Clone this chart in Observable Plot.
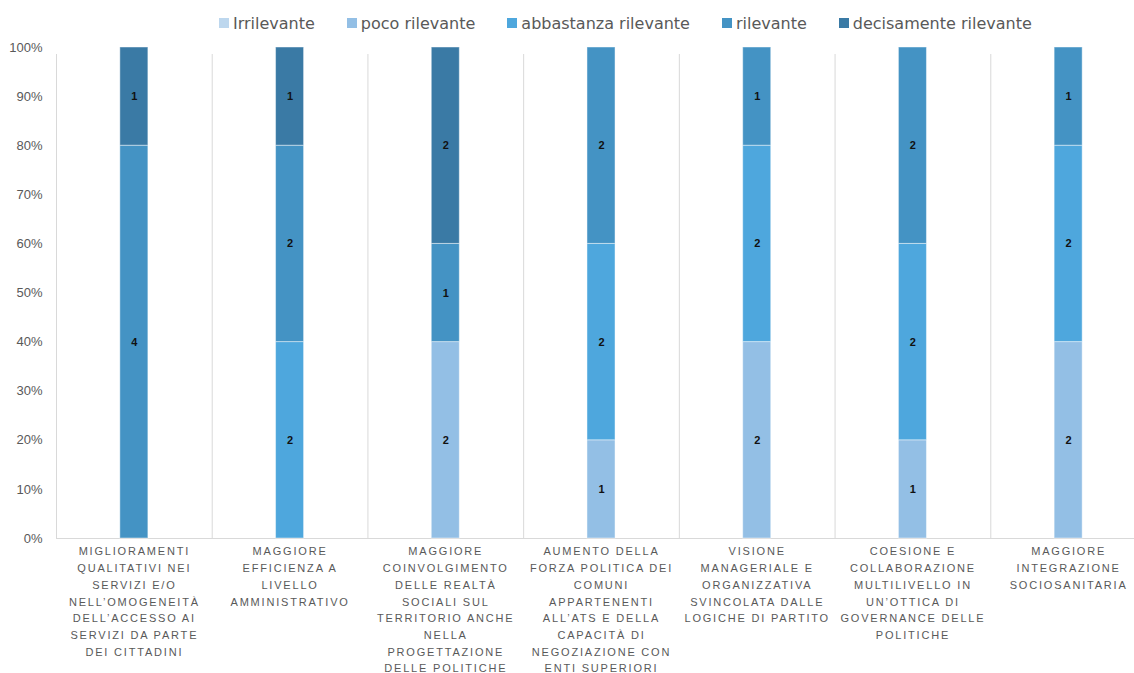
<!DOCTYPE html>
<html>
<head>
<meta charset="utf-8">
<script src="https://cdn.jsdelivr.net/npm/d3@7"></script>
<script src="https://cdn.jsdelivr.net/npm/@observablehq/plot@0.6"></script>
<style>
  body { margin: 0; background: #ffffff; }
  #legend {
    box-sizing: border-box;
    height: 40px;
    padding: 6px 0 0 219px;
    display: flex;
    align-items: center;
    font-family: "DejaVu Sans", sans-serif;
    font-size: 16px;
    color: #595959;
    white-space: nowrap;
  }
  #legend .item { display: flex; align-items: center; margin-right: 32px; }
  #legend .swatch { width: 10px; height: 10px; margin-right: 4px; }
  #chart svg { display: block; }
</style>
</head>
<body>
<div id="legend"></div>
<div id="chart"></div>
<script>
// Fattori emersi: numero di risposte per livello di rilevanza
const categories = [
  "MIGLIORAMENTI\nQUALITATIVI NEI\nSERVIZI E/O\nNELL’OMOGENEITÀ\nDELL’ACCESSO AI\nSERVIZI DA PARTE\nDEI CITTADINI",
  "MAGGIORE\nEFFICIENZA A\nLIVELLO\nAMMINISTRATIVO",
  "MAGGIORE\nCOINVOLGIMENTO\nDELLE REALTÀ\nSOCIALI SUL\nTERRITORIO ANCHE\nNELLA\nPROGETTAZIONE\nDELLE POLITICHE",
  "AUMENTO DELLA\nFORZA POLITICA DEI\nCOMUNI\nAPPARTENENTI\nALL’ATS E DELLA\nCAPACITÀ DI\nNEGOZIAZIONE CON\nENTI SUPERIORI",
  "VISIONE\nMANAGERIALE E\nORGANIZZATIVA\nSVINCOLATA DALLE\nLOGICHE DI PARTITO",
  "COESIONE E\nCOLLABORAZIONE\nMULTILIVELLO IN\nUN’OTTICA DI\nGOVERNANCE DELLE\nPOLITICHE",
  "MAGGIORE\nINTEGRAZIONE\nSOCIOSANITARIA"
];

const seriesNames = ["Irrilevante", "poco rilevante", "abbastanza rilevante", "rilevante", "decisamente rilevante"];
const seriesColors = ["#bdd7ee", "#93bfe5", "#4ea7dd", "#4493c4", "#3a7aa5"];

const irrilevante          = [0, 0, 0, 0, 0, 0, 0];
const pocoRilevante        = [0, 0, 2, 1, 2, 1, 2];
const abbastanzaRilevante  = [0, 2, 0, 2, 2, 2, 2];
const rilevante            = [4, 2, 1, 2, 1, 2, 1];
const decisamenteRilevante = [1, 1, 2, 0, 0, 0, 0];

const yTicks = [0, 0.1, 0.2, 0.3, 0.4, 0.5, 0.6, 0.7, 0.8, 0.9, 1];

const seriesValues = [irrilevante, pocoRilevante, abbastanzaRilevante, rilevante, decisamenteRilevante];
const rows = [];
categories.forEach((category, i) => {
  seriesNames.forEach((series, s) => {
    rows.push({category, series, value: seriesValues[s][i]});
  });
});
const nonZero = rows.filter(d => d.value > 0);

// Legend
const legend = d3.select("#legend");
seriesNames.forEach((name, i) => {
  const item = legend.append("div").attr("class", "item");
  item.append("div").attr("class", "swatch").style("background", seriesColors[i]);
  item.append("span").text(name);
});

// Plot area extends past the right edge of the page
const xRange = [56, 1146];
const step = (xRange[1] - xRange[0]) / categories.length;

const chart = Plot.plot({
  width: 1134,
  height: 633,
  marginTop: 7,
  marginBottom: 135,
  marginLeft: 56,
  marginRight: 0,
  style: {fontFamily: "Liberation Sans, Arial, sans-serif", fontSize: "13px", color: "#595959", background: "#ffffff"},
  x: {domain: categories, range: xRange, paddingInner: 0.82, paddingOuter: 0.41, round: false, axis: null},
  y: {domain: [0, 1], label: null},
  color: {domain: seriesNames, range: seriesColors},
  marks: [
    Plot.ruleX(categories, {x: d => d, dx: -step / 2, y1: 0, y2: 1, insetTop: 0, insetBottom: -7, stroke: "#d9d9d9", strokeWidth: 1}),
    Plot.ruleY([0], {stroke: "#d9d9d9", strokeWidth: 1}),
    Plot.barY(rows, Plot.stackY({
      x: "category", y: "value", fill: "series", order: seriesNames, offset: "normalize",
      stroke: "#ffffff", strokeOpacity: 0.45, strokeWidth: 1
    })),
    Plot.text(nonZero, Plot.stackY({
      x: "category", y: "value", z: "series", order: seriesNames, offset: "normalize",
      text: d => String(d.value), fill: "#111111", fontWeight: "bold", fontSize: 11
    })),
    Plot.axisY({ticks: yTicks, tickFormat: d3.format(".0%"), tickSize: 0, tickPadding: 14, fontSize: 13, label: null}),
    Plot.text(categories, {
      x: d => d, y: 0, text: d => d, lineAnchor: "top", dy: 5, lineHeight: 1.52,
      fontSize: 11, fill: "#595959"
    })
  ]
});

document.getElementById("chart").appendChild(chart);

// letter spacing on the category labels
d3.select(chart).selectAll("text")
  .filter(function() { return /[A-Z]{3}/.test(this.textContent); })
  .style("letter-spacing", "1.8px");
</script>
</body>
</html>
